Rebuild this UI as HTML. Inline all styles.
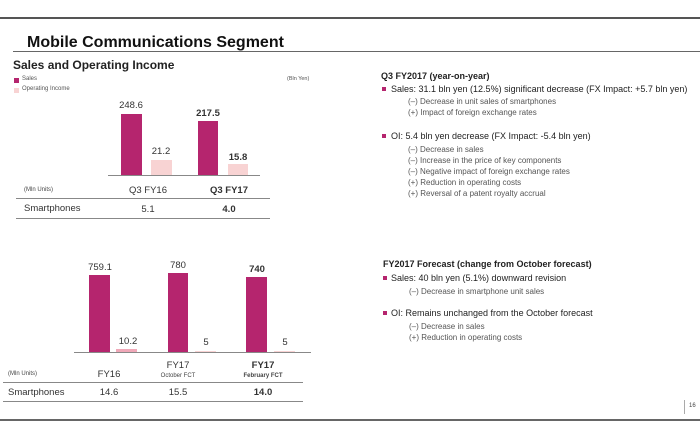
<!DOCTYPE html>
<html><head><meta charset="utf-8"><style>
body{margin:0;width:700px;height:441px;background:#fff;position:relative;overflow:hidden;font-family:"Liberation Sans",Arial,sans-serif;color:#222}
div,span{position:absolute;white-space:nowrap}
.c{transform:translateX(-50%)}
.bar{background:#b5256e}
.oi{background:#f8d3d3}
.ln{background:#888;height:1px}
.t{font-size:9.5px;color:#333}
.b{font-weight:bold}
.rt{font-size:9px;color:#222}
.sq{width:4px;height:4px;background:#b5256e}
.sub{font-size:8px;color:#555}
</style></head><body>
<div style="left:0;top:17px;width:700px;height:2px;background:#555"></div>
<div style="left:27px;top:34px;font-size:16px;font-weight:bold;color:#111">Mobile Communications Segment</div>
<div style="left:13px;top:51px;width:687px;height:1px;background:#666"></div>
<div style="left:13px;top:58px;font-size:12px;font-weight:bold;color:#222">Sales and Operating Income</div>
<div style="left:14px;top:78px;width:5px;height:5px;background:#b5256e"></div>
<div style="left:22px;top:76px;font-size:6px;color:#555">Sales</div>
<div style="left:14px;top:88px;width:5px;height:5px;background:#f8d3d3"></div>
<div style="left:22px;top:86px;font-size:6px;color:#555">Operating Income</div>
<div style="left:287px;top:76px;font-size:5.5px;color:#555">(Bln Yen)</div>

<div class="bar" style="left:121px;top:114px;width:21px;height:61px"></div>
<div class="oi" style="left:151px;top:160px;width:21px;height:15px"></div>
<div class="bar" style="left:198px;top:121px;width:20px;height:54px"></div>
<div class="oi" style="left:228px;top:164px;width:20px;height:11px"></div>
<div class="ln" style="left:108px;top:175px;width:152px"></div>
<div class="t c" style="left:131px;top:100px">248.6</div>
<div class="t c" style="left:161px;top:146px">21.2</div>
<div class="t c b" style="left:208px;top:108px">217.5</div>
<div class="t c b" style="left:238px;top:152px">15.8</div>
<div style="left:24px;top:187px;font-size:6px;color:#444">(Mln Units)</div>
<div class="t c" style="left:148px;top:185px">Q3 FY16</div>
<div class="t c b" style="left:229px;top:185px">Q3 FY17</div>
<div class="ln" style="left:16px;top:198px;width:254px"></div>
<div class="t" style="left:24px;top:203px">Smartphones</div>
<div class="t c" style="left:148px;top:204px">5.1</div>
<div class="t c b" style="left:229px;top:204px">4.0</div>
<div class="ln" style="left:16px;top:218px;width:254px"></div>

<div class="bar" style="left:89px;top:275px;width:21px;height:77px"></div>
<div class="oi" style="left:116px;top:349px;width:21px;height:3px;background:#f0a8b8"></div>
<div class="bar" style="left:168px;top:273px;width:20px;height:79px"></div>
<div class="oi" style="left:195px;top:351px;width:21px;height:1px"></div>
<div class="bar" style="left:246px;top:277px;width:21px;height:75px"></div>
<div class="oi" style="left:274px;top:351px;width:21px;height:1px"></div>
<div class="ln" style="left:74px;top:352px;width:237px"></div>
<div class="t c" style="left:100px;top:262px">759.1</div>
<div class="t c" style="left:128px;top:336px">10.2</div>
<div class="t c" style="left:178px;top:260px">780</div>
<div class="t c" style="left:206px;top:337px">5</div>
<div class="t c b" style="left:257px;top:264px">740</div>
<div class="t c" style="left:285px;top:337px">5</div>
<div style="left:8px;top:371px;font-size:6px;color:#444">(Mln Units)</div>
<div class="t c" style="left:109px;top:369px">FY16</div>
<div class="t c" style="left:178px;top:360px">FY17</div>
<div class="c" style="left:178px;top:373px;font-size:6px;color:#444">October FCT</div>
<div class="t c b" style="left:263px;top:360px">FY17</div>
<div class="c b" style="left:263px;top:373px;font-size:6px;color:#444">February FCT</div>
<div class="ln" style="left:3px;top:382px;width:300px"></div>
<div class="t" style="left:8px;top:387px">Smartphones</div>
<div class="t c" style="left:109px;top:387px">14.6</div>
<div class="t c" style="left:178px;top:387px">15.5</div>
<div class="t c b" style="left:263px;top:387px">14.0</div>
<div class="ln" style="left:3px;top:401px;width:300px"></div>

<div class="rt b" style="left:381px;top:71px">Q3 FY2017 (year-on-year)</div>
<div class="sq" style="left:382px;top:87px"></div>
<div class="rt" style="left:391px;top:84px">Sales: 31.1 bln yen (12.5%) significant decrease (FX Impact: +5.7 bln yen)</div>
<div class="sub" style="left:408px;top:97px">(–) Decrease in unit sales of smartphones</div>
<div class="sub" style="left:408px;top:108px">(+) Impact of foreign exchange rates</div>
<div class="sq" style="left:382px;top:134px"></div>
<div class="rt" style="left:391px;top:131px">OI: 5.4 bln yen decrease (FX Impact: -5.4 bln yen)</div>
<div class="sub" style="left:408px;top:145px">(–) Decrease in sales</div>
<div class="sub" style="left:408px;top:156px">(–) Increase in the price of key components</div>
<div class="sub" style="left:408px;top:167px">(–) Negative impact of foreign exchange rates</div>
<div class="sub" style="left:408px;top:178px">(+) Reduction in operating costs</div>
<div class="sub" style="left:408px;top:189px">(+) Reversal of a patent royalty accrual</div>

<div class="rt b" style="left:383px;top:259px">FY2017 Forecast (change from October forecast)</div>
<div class="sq" style="left:383px;top:276px"></div>
<div class="rt" style="left:391px;top:273px">Sales: 40 bln yen (5.1%) downward revision</div>
<div class="sub" style="left:409px;top:287px">(–) Decrease in smartphone unit sales</div>
<div class="sq" style="left:383px;top:311px"></div>
<div class="rt" style="left:391px;top:308px">OI: Remains unchanged from the October forecast</div>
<div class="sub" style="left:409px;top:322px">(–) Decrease in sales</div>
<div class="sub" style="left:409px;top:333px">(+) Reduction in operating costs</div>

<div style="left:684px;top:400px;width:1px;height:14px;background:#aaa"></div>
<div style="left:689px;top:403px;font-size:6px;color:#444">16</div>
<div style="left:0;top:419px;width:700px;height:2px;background:#666"></div>
</body></html>
